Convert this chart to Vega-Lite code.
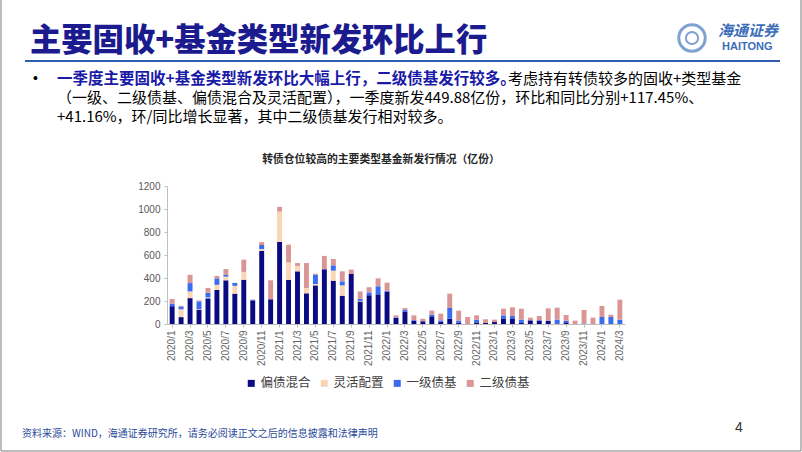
{
  "$schema": "https://vega.github.io/schema/vega-lite/v6.json",
  "width": 458,
  "height": 138,
  "autosize": {"type": "none"},
  "padding": {"left": 167, "top": 186, "right": 177, "bottom": 128},
  "background": "white",
  "config": {"view": {"stroke": null}, "font": "Liberation Sans"},
  "datasets": {
    "funds": [
      {"月份": "2020/1", "偏债混合": 155, "灵活配置": 0, "一级债基": 22, "二级债基": 40},
      {"月份": "2020/2", "偏债混合": 60, "灵活配置": 68, "一级债基": 25, "二级债基": 5},
      {"月份": "2020/3", "偏债混合": 225, "灵活配置": 58, "一级债基": 73, "二级债基": 72},
      {"月份": "2020/4", "偏债混合": 125, "灵活配置": 5, "一级债基": 67, "二级债基": 8},
      {"月份": "2020/5", "偏债混合": 223, "灵活配置": 8, "一级债基": 40, "二级债基": 42},
      {"月份": "2020/6", "偏债混合": 296, "灵活配置": 45, "一级债基": 56, "二级债基": 21},
      {"月份": "2020/7", "偏债混合": 380, "灵活配置": 32, "一级债基": 16, "二级债基": 50},
      {"月份": "2020/8", "偏债混合": 264, "灵活配置": 68, "一级债基": 25, "二级债基": 0},
      {"月份": "2020/9", "偏债混合": 385, "灵活配置": 68, "一级债基": 0, "二级债基": 107},
      {"月份": "2020/10", "偏债混合": 205, "灵活配置": 0, "一级债基": 5, "二级债基": 3},
      {"月份": "2020/11", "偏债混合": 637, "灵活配置": 15, "一级债基": 35, "二级债基": 25},
      {"月份": "2020/12", "偏债混合": 215, "灵活配置": 0, "一级债基": 0, "二级债基": 165},
      {"月份": "2021/1", "偏债混合": 713, "灵活配置": 264, "一级债基": 0, "二级债基": 41},
      {"月份": "2021/2", "偏债混合": 385, "灵活配置": 150, "一级债基": 0, "二级债基": 155},
      {"月份": "2021/3", "偏债混合": 458, "灵活配置": 47, "一级债基": 0, "二级债基": 25},
      {"月份": "2021/4", "偏债混合": 267, "灵活配置": 46, "一级债基": 0, "二级债基": 217},
      {"月份": "2021/5", "偏债混合": 336, "灵活配置": 12, "一级债基": 81, "二级债基": 9},
      {"月份": "2021/6", "偏债混合": 476, "灵活配置": 0, "一级债基": 0, "二级债基": 116},
      {"月份": "2021/7", "偏债混合": 377, "灵活配置": 87, "一级债基": 46, "二级债基": 55},
      {"月份": "2021/8", "偏债混合": 246, "灵活配置": 90, "一级债基": 35, "二级债基": 87},
      {"月份": "2021/9", "偏债混合": 435, "灵活配置": 0, "一级债基": 0, "二级债基": 38},
      {"月份": "2021/10", "偏债混合": 196, "灵活配置": 5, "一级债基": 18, "二级债基": 64},
      {"月份": "2021/11", "偏债混合": 250, "灵活配置": 0, "一级债基": 25, "二级债基": 45},
      {"月份": "2021/12", "偏债混合": 258, "灵活配置": 0, "一级债基": 70, "二级债基": 69},
      {"月份": "2022/1", "偏债混合": 281, "灵活配置": 0, "一级债基": 8, "二级债基": 71},
      {"月份": "2022/2", "偏债混合": 53, "灵活配置": 0, "一级债基": 5, "二级债基": 17},
      {"月份": "2022/3", "偏债混合": 105, "灵活配置": 0, "一级债基": 20, "二级债基": 14},
      {"月份": "2022/4", "偏债混合": 29, "灵活配置": 0, "一级债基": 5, "二级债基": 41},
      {"月份": "2022/5", "偏债混合": 23, "灵活配置": 0, "一级债基": 0, "二级债基": 23},
      {"月份": "2022/6", "偏债混合": 67, "灵活配置": 0, "一级债基": 14, "二级债基": 35},
      {"月份": "2022/7", "偏债混合": 20, "灵活配置": 0, "一级债基": 12, "二级债基": 58},
      {"月份": "2022/8", "偏债混合": 45, "灵活配置": 0, "一级债基": 94, "二级债基": 125},
      {"月份": "2022/9", "偏债混合": 10, "灵活配置": 0, "一级债基": 20, "二级债基": 86},
      {"月份": "2022/10", "偏债混合": 0, "灵活配置": 0, "一级债基": 0, "二级债基": 61},
      {"月份": "2022/11", "偏债混合": 14, "灵活配置": 0, "一级债基": 24, "二级债基": 37},
      {"月份": "2022/12", "偏债混合": 9, "灵活配置": 0, "一级债基": 0, "二级债基": 32},
      {"月份": "2023/1", "偏债混合": 17, "灵活配置": 0, "一级债基": 0, "二级债基": 21},
      {"月份": "2023/2", "偏债混合": 49, "灵活配置": 0, "一级债基": 26, "二级债基": 58},
      {"月份": "2023/3", "偏债混合": 49, "灵活配置": 0, "一级债基": 21, "二级债基": 75},
      {"月份": "2023/4", "偏债混合": 9, "灵活配置": 0, "一级债基": 29, "二级债基": 95},
      {"月份": "2023/5", "偏债混合": 32, "灵活配置": 0, "一级债基": 0, "二级债基": 23},
      {"月份": "2023/6", "偏债混合": 29, "灵活配置": 0, "一级债基": 5, "二级债基": 36},
      {"月份": "2023/7", "偏债混合": 29, "灵活配置": 0, "一级债基": 0, "二级债基": 107},
      {"月份": "2023/8", "偏债混合": 5, "灵活配置": 0, "一级债基": 33, "二级债基": 104},
      {"月份": "2023/9", "偏债混合": 15, "灵活配置": 0, "一级债基": 14, "二级债基": 49},
      {"月份": "2023/10", "偏债混合": 0, "灵活配置": 0, "一级债基": 0, "二级债基": 29},
      {"月份": "2023/11", "偏债混合": 0, "灵活配置": 0, "一级债基": 5, "二级债基": 117},
      {"月份": "2023/12", "偏债混合": 0, "灵活配置": 0, "一级债基": 0, "二级债基": 55},
      {"月份": "2024/1", "偏债混合": 0, "灵活配置": 0, "一级债基": 61, "二级债基": 96},
      {"月份": "2024/2", "偏债混合": 0, "灵活配置": 0, "一级债基": 61, "二级债基": 20},
      {"月份": "2024/3", "偏债混合": 0, "灵活配置": 0, "一级债基": 38, "二级债基": 174}
    ]
  },
  "layer": [
    {
      "data": {"name": "funds"},
      "transform": [
        {"fold": ["偏债混合", "灵活配置", "一级债基", "二级债基"], "as": ["类型", "规模"]},
        {"window": [{"op": "row_number", "as": "堆叠序"}], "groupby": ["月份"]}
      ],
      "mark": {"type": "bar"},
      "encoding": {
        "x": {
          "field": "月份", "type": "ordinal", "sort": null,
          "scale": {"paddingInner": 0.45, "paddingOuter": 0.3},
          "axis": {
            "title": null,
            "values": ["2020/1","2020/3","2020/5","2020/7","2020/9","2020/11","2021/1","2021/3","2021/5","2021/7","2021/9","2021/11","2022/1","2022/3","2022/5","2022/7","2022/9","2022/11","2023/1","2023/3","2023/5","2023/7","2023/9","2023/11","2024/1","2024/3"],
            "labelAngle": -90, "labelFontSize": 10, "labelColor": "#666666", "labelPadding": 3,
            "domainColor": "#BFBFBF", "tickColor": "#BFBFBF", "tickSize": 3, "grid": false
          }
        },
        "y": {
          "field": "规模", "type": "quantitative", "stack": "zero",
          "scale": {"domain": [0, 1200], "nice": false},
          "axis": {
            "title": null, "values": [0, 200, 400, 600, 800, 1000, 1200], "format": "d",
            "labelFontSize": 10, "labelColor": "#595959", "labelPadding": 4,
            "domainColor": "#BFBFBF", "tickColor": "#BFBFBF", "tickSize": 3, "grid": false
          }
        },
        "order": {"field": "堆叠序", "type": "quantitative", "sort": "ascending"},
        "color": {
          "field": "类型", "type": "nominal",
          "scale": {"domain": ["偏债混合", "灵活配置", "一级债基", "二级债基"], "range": ["#0A0A82", "#FBD6B6", "#3A6BF0", "#D99694"]},
          "legend": {
            "title": null, "orient": "none", "direction": "horizontal",
            "legendX": 78, "legendY": 191,
            "symbolType": "square", "symbolSize": 49, "symbolStrokeWidth": 0,
            "labelFont": "Noto Sans CJK SC", "labelFontSize": 12.5, "labelColor": "#404040",
            "labelOffset": 3, "columnPadding": 7
          }
        }
      }
    },
    {
      "data": {"values": [{}]},
      "mark": {"type": "text", "text": "转债仓位较高的主要类型基金新发行情况（亿份）", "font": "Noto Sans CJK SC", "fontSize": 10.8, "fontWeight": "bold", "color": "#262626", "align": "center", "baseline": "middle"},
      "encoding": {"x": {"value": 214}, "y": {"value": -26}}
    },
    {
      "data": {"values": [{}]},
      "mark": {"type": "text", "text": "主要固收+基金类型新发环比上行", "font": "Noto Sans CJK SC", "fontSize": 31.3, "fontWeight": 900, "color": "#1B1B8F", "align": "left", "baseline": "middle"},
      "encoding": {"x": {"value": -137}, "y": {"value": -144}}
    },
    {
      "data": {"values": [{}]},
      "mark": {"type": "rule", "color": "#2F5DB0", "strokeWidth": 2},
      "encoding": {"x": {"value": -142}, "x2": {"value": 613}, "y": {"value": -125}}
    },
    {
      "data": {"values": [{}]},
      "mark": {"type": "rule", "color": "#A6A6A6", "strokeWidth": 1.5},
      "encoding": {"x": {"value": -166}, "y": {"value": -186}, "y2": {"value": 265}}
    },
    {
      "data": {"values": [{}]},
      "mark": {"type": "rule", "color": "#A6A6A6", "strokeWidth": 1.5},
      "encoding": {"x": {"value": 634}, "y": {"value": -186}, "y2": {"value": 265}}
    },
    {
      "data": {"values": [{}]},
      "mark": {"type": "rule", "color": "#A6A6A6", "strokeWidth": 1.5},
      "encoding": {"x": {"value": -166}, "x2": {"value": 634}, "y": {"value": 265}}
    },
    {
      "data": {"values": [{}]},
      "mark": {"type": "point", "shape": "circle", "filled": false, "size": 700, "stroke": "#4A7CC0", "strokeWidth": 3},
      "encoding": {"x": {"value": 525}, "y": {"value": -148}}
    },
    {
      "data": {"values": [{}]},
      "mark": {"type": "point", "shape": "circle", "filled": false, "size": 150, "stroke": "#4A7CC0", "strokeWidth": 2},
      "encoding": {"x": {"value": 525}, "y": {"value": -148}}
    },
    {
      "data": {"values": [{}]},
      "mark": {"type": "text", "text": "海通证券", "font": "Noto Sans CJK SC", "fontSize": 15, "fontWeight": "bold", "fontStyle": "italic", "color": "#3B6DB8", "align": "left", "baseline": "middle"},
      "encoding": {"x": {"value": 551}, "y": {"value": -155}}
    },
    {
      "data": {"values": [{}]},
      "mark": {"type": "text", "text": "HAITONG", "font": "Liberation Sans", "fontSize": 11, "fontWeight": "bold", "color": "#3B6DB8", "align": "left", "baseline": "middle"},
      "encoding": {"x": {"value": 555}, "y": {"value": -139}}
    },
    {
      "data": {"values": [{}]},
      "mark": {"type": "text", "text": "•", "font": "Liberation Sans", "fontSize": 14, "color": "#000000", "align": "left", "baseline": "middle"},
      "encoding": {"x": {"value": -134}, "y": {"value": -107}}
    },
    {
      "data": {"values": [{}]},
      "mark": {"type": "text", "text": "一季度主要固收+基金类型新发环比大幅上行，二级债基发行较多。", "font": "Noto Sans CJK SC", "fontSize": 15.5, "fontWeight": "bold", "color": "#1A1AA8", "align": "left", "baseline": "middle"},
      "encoding": {"x": {"value": -110}, "y": {"value": -107}}
    },
    {
      "data": {"values": [{}]},
      "mark": {"type": "text", "text": "考虑持有转债较多的固收+类型基金", "font": "Noto Sans CJK SC", "fontSize": 15, "color": "#000000", "align": "left", "baseline": "middle"},
      "encoding": {"x": {"value": 341}, "y": {"value": -107}}
    },
    {
      "data": {"values": [{}]},
      "mark": {"type": "text", "text": "（一级、二级债基、偏债混合及灵活配置），一季度新发449.88亿份，环比和同比分别+117.45%、", "font": "Noto Sans CJK SC", "fontSize": 15, "color": "#000000", "align": "left", "baseline": "middle"},
      "encoding": {"x": {"value": -110}, "y": {"value": -88}}
    },
    {
      "data": {"values": [{}]},
      "mark": {"type": "text", "text": "+41.16%，环/同比增长显著，其中二级债基发行相对较多。", "font": "Noto Sans CJK SC", "fontSize": 15, "color": "#000000", "align": "left", "baseline": "middle"},
      "encoding": {"x": {"value": -110}, "y": {"value": -69}}
    },
    {
      "data": {"values": [{}]},
      "mark": {"type": "text", "text": "资料来源：WIND，海通证券研究所，请务必阅读正文之后的信息披露和法律声明", "font": "Noto Sans CJK SC", "fontSize": 10, "color": "#2A4A9A", "align": "left", "baseline": "middle"},
      "encoding": {"x": {"value": -145}, "y": {"value": 248}}
    },
    {
      "data": {"values": [{}]},
      "mark": {"type": "text", "text": "4", "font": "Liberation Sans", "fontSize": 14, "color": "#333333", "align": "left", "baseline": "middle"},
      "encoding": {"x": {"value": 568}, "y": {"value": 242}}
    }
  ]
}
